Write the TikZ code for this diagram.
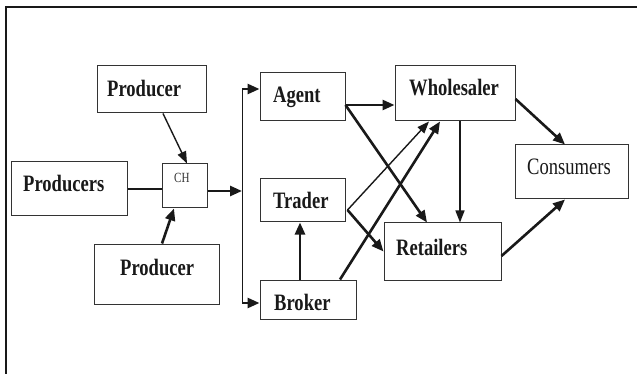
\documentclass[tikz,border=0pt]{standalone}
\usepackage{fontspec}
\newfontfamily\lbf{Liberation Serif}[FakeStretch=0.79]
\usetikzlibrary{arrows.meta}
\begin{document}
\begin{tikzpicture}[x=1pt,y=-1pt,
  box/.style={draw=black!80, line width=1pt, rectangle, inner sep=0pt},
  txt/.style={inner sep=0pt, anchor=base west, text=black!90, font=\lbf\fontsize{23.5}{23.5}\selectfont\bfseries},
  txtr/.style={inner sep=0pt, anchor=base west, text=black!90, font=\lbf\fontsize{23.5}{23.5}\selectfont},
  thk/.style={line width=2.6pt, black!90, -{Triangle[length=12pt,width=10pt]}},
  thn/.style={line width=1.4pt, black!90, -{Triangle[length=12pt,width=9pt]}},
  plain/.style={line width=1pt, black!90}]
\useasboundingbox (0,0) rectangle (637,374);
\fill[white] (0,0) rectangle (637,374);
% frame
\draw[line width=2pt, black!90] (6,380) -- (6,7) -- (645,7);
% boxes
\node[box, minimum width=109pt, minimum height=47pt] (pt) at (151.5,89.5) {};
\node[box, minimum width=116pt, minimum height=54pt] (ps) at (69,189) {};
\node[box, minimum width=45pt, minimum height=44pt] (ch) at (184.5,186) {};
\node[box, minimum width=125pt, minimum height=60pt] (pb) at (156.5,274) {};
\node[box, minimum width=85pt, minimum height=48pt] (ag) at (302.5,97) {};
\node[box, minimum width=85pt, minimum height=43pt] (tr) at (302.5,200.5) {};
\node[box, minimum width=96pt, minimum height=39pt] (br) at (308,299.5) {};
\node[box, minimum width=120pt, minimum height=55pt] (ws) at (455,93.5) {};
\node[box, minimum width=113pt, minimum height=54pt] (co) at (571.5,172) {};
\node[box, minimum width=117pt, minimum height=57pt] (re) at (442.5,251.5) {};
% texts
\node[txt] (ptT) at (107,97) {Producer};
\node[txt] (psT) at (23,192) {Producers};
\node[txt] (pbT) at (120,275) {Producer};
\node[inner sep=0pt, anchor=base west, text=black!80, font=\lbf\fontsize{14}{14}\selectfont] (chT) at (174,183) {CH};
\node[txt] (agT) at (273,103) {Agent};
\node[txt] (trT) at (273,208) {Trader};
\node[txt] (brT) at (274,310) {Broker};
\node[txt] (wsT) at (409,96) {Wholesaler};
\node[txtr] (coT) at (527,175) {Consumers};
\node[txt] (reT) at (396,255) {Retailers};
% connectors left
\draw[thn] ([xshift=11.5pt]pt.south) -- ([xshift=2.5pt]ch.north);
\draw[line width=2.6pt, black!90] (ps.east) -- (ps.east -| ch.west);
\draw[thk] ([xshift=5.5pt]pb.north) -- ([xshift=-10.5pt]ch.south);
\coordinate (vm) at (242,191);
\coordinate (vt) at (242,89);
\coordinate (vb) at (242,303);
\draw[thk] (ch.east |- vm) -- (vm);
\draw[plain] (vt) -- (vb);
\draw[thk] (vt) -- (vt -| ag.west);
\draw[thk] (vb) -- (vb -| br.west);
% middle
\draw[thk] ([yshift=-8pt]ag.east) -- ([yshift=-8pt]ag.east -| ws.west);
\draw[thk] ([yshift=-8pt]ag.east) -- ([xshift=-15.5pt]re.north);
\draw[thn] ([xshift=2pt,yshift=-9.5pt]tr.east) -- ([xshift=-26pt]ws.south);
\draw[thk] ([xshift=2pt,yshift=-9.5pt]tr.east) -- (re.west);
\draw[thk] ([xshift=32pt]br.north) -- ([xshift=-15pt]ws.south);
\draw[thk] ([xshift=-8pt]br.north) -- ([xshift=-8pt]br.north |- tr.south);
\draw[thn] ([xshift=5pt]ws.south) -- ([xshift=5pt]ws.south |- re.north);
\draw[thk] ([yshift=-5.5pt]ws.east) -- ([xshift=-6.5pt]co.north);
\draw[thk] ([yshift=-4.5pt]re.east) -- ([xshift=-6.5pt]co.south);
\end{tikzpicture}
\end{document}
